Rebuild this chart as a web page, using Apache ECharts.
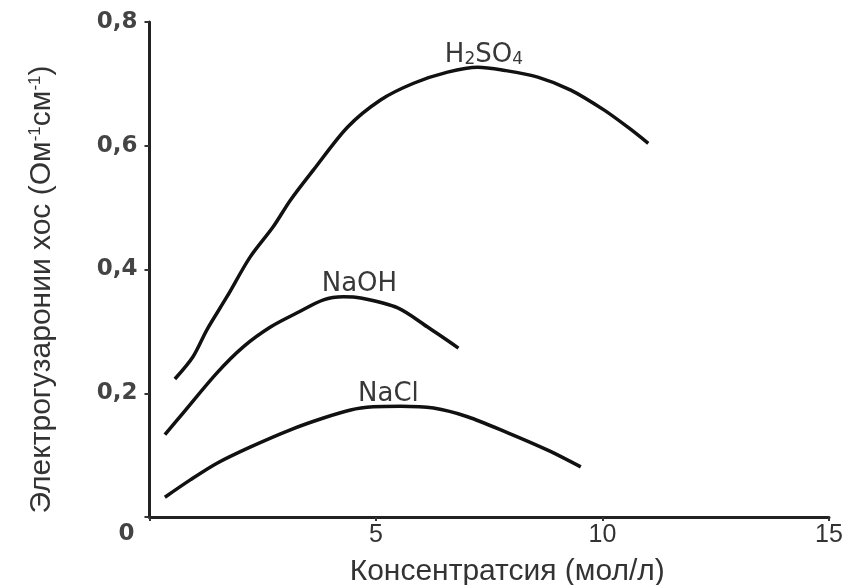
<!DOCTYPE html>
<html>
<head>
<meta charset="utf-8">
<script src="https://cdn.jsdelivr.net/npm/echarts@6/dist/echarts.min.js"></script>
<style>
  html, body { margin: 0; padding: 0; background: #fff; }
  #chart { width: 852px; height: 585px; }
</style>
</head>
<body>
<div id="chart"></div>
<script>
// Electrical conductivity vs concentration for three electrolytes
const xTicks = [0, 5, 10, 15];
const yTicks = [0, 0.2, 0.4, 0.6, 0.8];

const h2so4X = [0.56, 0.96, 1.27, 1.71, 2.22, 2.73, 3.11, 3.62, 4.37, 5.10, 5.83, 6.58, 7.25, 7.82, 8.57, 9.30, 10.03, 10.56, 11.01];
const h2so4Y = [0.223, 0.259, 0.303, 0.356, 0.420, 0.469, 0.512, 0.561, 0.630, 0.674, 0.701, 0.719, 0.727, 0.722, 0.711, 0.690, 0.658, 0.630, 0.604];

const naohX = [0.34, 0.74, 1.49, 2.07, 2.67, 3.26, 3.84, 4.28, 4.66, 5.48, 6.14, 6.82];
const naohY = [0.133, 0.168, 0.233, 0.275, 0.307, 0.330, 0.351, 0.356, 0.354, 0.338, 0.307, 0.273];

const naclX = [0.34, 0.90, 1.49, 2.22, 3.11, 3.84, 4.44, 4.94, 5.54, 6.27, 7.02, 7.91, 8.79, 9.52];
const naclY = [0.032, 0.060, 0.087, 0.113, 0.141, 0.160, 0.173, 0.178, 0.179, 0.176, 0.162, 0.136, 0.108, 0.081];

const seriesNames = ['H2SO4', 'NaOH', 'NaCl'];
const xTitle = 'Консентратсия (мол/л)';
const yTitle = 'Электрогузаронии хос';

const pairs = (xs, ys) => xs.map((x, i) => [x, ys[i]]);

const labelRich = {
  b: { fontFamily: 'DejaVu Sans', fontSize: 26, color: '#383838' },
  s: { fontFamily: 'DejaVu Sans', fontSize: 17, color: '#383838', verticalAlign: 'bottom' }
};

function curve(name, data, labelText, offset) {
  return {
    name: name,
    type: 'line',
    data: data,
    smooth: 0.3,
    showSymbol: false,
    lineStyle: { color: '#111', width: 3.5 },
    markPoint: {
      symbol: 'circle',
      symbolSize: 0,
      data: [{ type: 'max', valueDim: 'y' }],
      label: {
        show: true,
        position: 'inside',
        offset: offset,
        formatter: labelText,
        rich: labelRich
      }
    }
  };
}

const chart = echarts.init(document.getElementById('chart'), null, { renderer: 'canvas' });

chart.setOption({
  animation: false,
  backgroundColor: '#fff',
  grid: { left: 149.5, right: 23, top: 22, bottom: 68, containLabel: false, outerBoundsMode: 'none' },
  xAxis: {
    type: 'value',
    min: xTicks[0],
    max: xTicks[xTicks.length - 1],
    interval: 5,
    name: xTitle,
    nameLocation: 'middle',
    nameGap: 40,
    nameTextStyle: { fontFamily: 'Liberation Sans', fontSize: 30, color: '#333', padding: [0, 0, 0, 36] },
    axisLine: { lineStyle: { color: '#222', width: 3 } },
    axisTick: { length: 4, lineStyle: { color: '#333', width: 2 } },
    splitLine: { show: false },
    axisLabel: {
      margin: 6,
      fontFamily: 'Liberation Sans',
      fontSize: 25,
      color: '#333',
      formatter: v => (v === 0 ? '{z|0}' : String(v)),
      rich: {
        z: { fontFamily: 'DejaVu Sans', fontWeight: 'bold', fontSize: 23, color: '#444', padding: [0, 46, 4, 0] }
      }
    }
  },
  yAxis: {
    type: 'value',
    min: yTicks[0],
    max: yTicks[yTicks.length - 1],
    interval: 0.2,
    name: yTitle + ' (Ом{sup|-1}см{sup|-1})',
    nameLocation: 'middle',
    nameRotate: 90,
    nameGap: 92,
    nameTextStyle: {
      fontFamily: 'Liberation Sans', fontSize: 30, color: '#333',
      padding: [0, 40, 0, 0],
      rich: {
        sup: { fontFamily: 'Liberation Sans', fontSize: 17, color: '#333', verticalAlign: 'top', padding: [0, 0, 14, 0] }
      }
    },
    axisLine: { show: true, lineStyle: { color: '#222', width: 3 } },
    axisTick: { show: true, length: 5, lineStyle: { color: '#333', width: 2 } },
    splitLine: { show: false },
    axisLabel: {
      margin: 12,
      fontFamily: 'DejaVu Sans',
      fontWeight: 'bold',
      fontSize: 23,
      color: '#444',
      formatter: v => (v === 0 ? '' : v.toFixed(1).replace('.', ','))
    }
  },
  series: [
    curve(seriesNames[0], pairs(h2so4X, h2so4Y), '{b|H}{s|2}{b|SO}{s|4}', [6, -12]),
    curve(seriesNames[1], pairs(naohX, naohY), '{b|NaOH}', [16, -12]),
    curve(seriesNames[2], pairs(naclX, naclY), '{b|NaCl}', [-12, -12])
  ]
});
</script>
</body>
</html>
